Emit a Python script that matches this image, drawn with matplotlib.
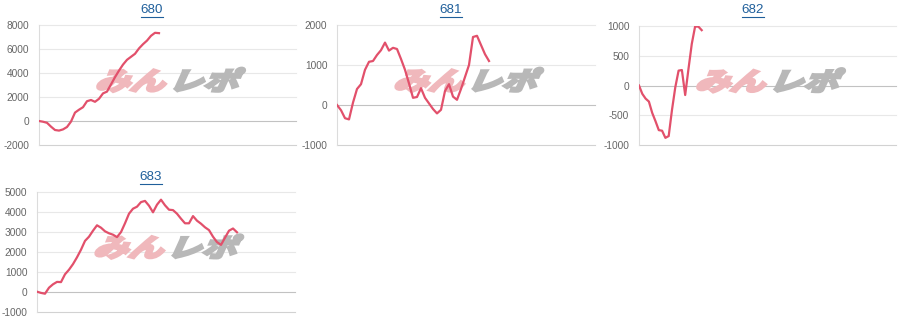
import matplotlib
matplotlib.use("Agg")
import matplotlib.pyplot as plt
from matplotlib.textpath import TextPath
from matplotlib.patches import PathPatch
from matplotlib.font_manager import FontProperties
from matplotlib.transforms import Affine2D
from matplotlib.lines import Line2D

# machine numbers shown as chart titles
titles = ["680", "681", "682", "683"]

# balance curves
data_680 = [0, -60, -150, -470, -750, -800, -700, -500, -50, 700, 940, 1150,
            1650, 1750, 1600, 1850, 2300, 2450, 3050, 3650, 4200, 4700, 5100,
            5350, 5600, 6050, 6400, 6700, 7100, 7350, 7320]
data_681 = [0, -130, -330, -360, 60, 400, 520, 880, 1080, 1100, 1250, 1370,
            1560, 1360, 1430, 1400, 1150, 880, 540, 180, 200, 420, 180, 40,
            -100, -210, -120, 350, 520, 210, 130, 400, 700, 1000, 1700, 1730,
            1500, 1270, 1100]
data_682 = [0, -140, -220, -270, -460, -600, -750, -760, -880, -850, -410,
            -30, 250, 260, -160, 280, 700, 990, 990, 930]
data_683 = [0, -60, -100, 200, 370, 490, 480, 870, 1100, 1380, 1720, 2100,
            2540, 2750, 3050, 3320, 3200, 3020, 2920, 2850, 2730, 2980, 3420,
            3900, 4150, 4250, 4480, 4540, 4300, 3970, 4350, 4600, 4320, 4100,
            4080, 3900, 3650, 3420, 3420, 3780, 3550, 3400, 3220, 3080, 2750,
            2480, 2340, 2700, 3050, 3160, 2970]

series = [data_680, data_681, data_682, data_683]
yticks = [
    [-2000, 0, 2000, 4000, 6000, 8000],
    [-1000, 0, 1000, 2000],
    [-1000, -500, 0, 500, 1000],
    [-1000, 0, 1000, 2000, 3000, 4000, 5000],
]
xmax = [64.25, 64.5, 77.9, 64.5]

W, H = 900, 332
# axes boxes in pixels: left, top, right, bottom
boxes = [(39, 25, 296, 145), (337, 25, 595, 145), (639, 26, 896, 145), (37, 191.7, 295, 311.7)]
title_pos = [(152, 10), (451, 10), (753, 10), (151, 177)]

LINE = "#e2506b"
TICK = "#666666"
LINK = "#1f5f9b"

fig = plt.figure(figsize=(W / 100, H / 100), dpi=100)
jp = FontProperties(family=["Noto Sans CJK JP", "DejaVu Sans"], weight="bold")


def watermark(ax, wpx, hpx):
    # "みんレポ" logo, drawn as slanted heavy text behind the line
    parts = [("みん", "#f0b8bc", 0.0), ("レポ", "#b8b8b8", 2.1)]
    for txt, col, off in parts:
        tp = TextPath((off, 0), txt, size=1, prop=jp)
        tr = (Affine2D().skew_deg(18, 0).scale(35, 25)
              .scale(1 / wpx, 1 / hpx).translate(0.215, 0.46) + ax.transAxes)
        ax.add_patch(PathPatch(tp, transform=tr, facecolor=col, edgecolor=col,
                               lw=2.2, joinstyle="miter", zorder=1))


for i, vals in enumerate(series):
    l, t, r, b = boxes[i]
    ax = fig.add_axes([l / W, 1 - b / H, (r - l) / W, (b - t) / H])
    ax.plot(range(len(vals)), vals, color=LINE, lw=1.6, zorder=3, solid_joinstyle="round")
    ax.set_xlim(0, xmax[i])
    ax.set_ylim(yticks[i][0], yticks[i][-1])
    ax.set_xticks([])
    ax.set_yticks(yticks[i])
    ax.set_yticklabels([str(v) for v in yticks[i]])
    ax.tick_params(axis="y", length=0, pad=7, labelsize=7.3, labelcolor=TICK)
    for lab in ax.get_yticklabels():
        lab.set_family("Liberation Sans")
    for v in yticks[i]:
        if v == 0:
            c = "#c2c2c2"
        elif v == yticks[i][0]:
            c = "#d2d2d2"
        else:
            c = "#e8e8e8"
        ax.axhline(v, color=c, lw=0.8, zorder=0, clip_on=False)
    for s in ["top", "right", "bottom"]:
        ax.spines[s].set_visible(False)
    ax.spines["left"].set_color("#dcdcdc")
    ax.spines["left"].set_linewidth(0.8)
    ax.patch.set_alpha(0)
    watermark(ax, r - l, b - t)

    # underlined link-style title
    tx, ty = title_pos[i]
    fig.text(tx / W, 1 - ty / H, titles[i], ha="center", va="center",
             fontsize=9.6, color=LINK, family="Liberation Sans")

fig.canvas.draw()
rend = fig.canvas.get_renderer()
for txt in fig.texts:
    bb = txt.get_window_extent(rend)
    y = (bb.y0 - 0.5) / H
    fig.add_artist(Line2D([bb.x0 / W, bb.x1 / W], [y, y], color=LINK, lw=0.8))

fig.savefig("out.png", dpi=100)
